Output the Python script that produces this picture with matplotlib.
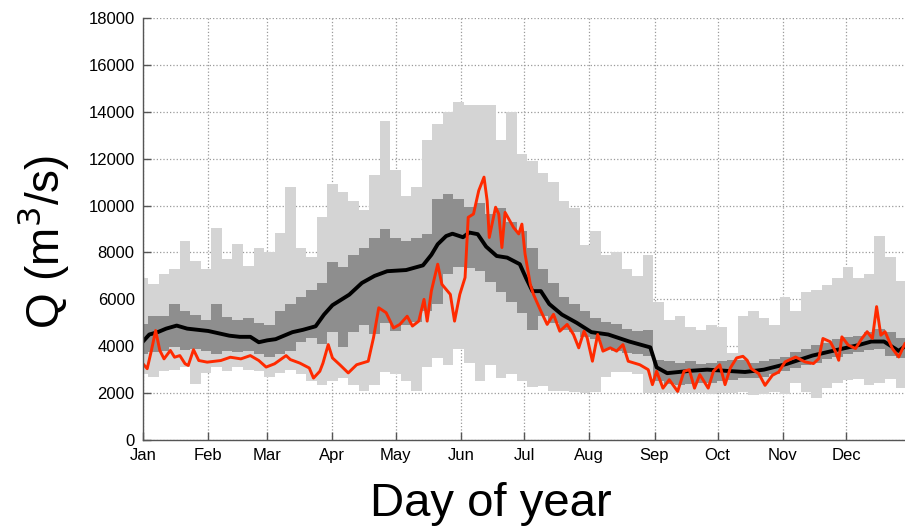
import numpy as np
import matplotlib
matplotlib.use("Agg")
import matplotlib.pyplot as plt

plt.rcParams['font.family'] = ['Liberation Sans', 'DejaVu Sans']

# === Daily discharge climatology (5-day sampling) ===
band_day = list(range(1, 367, 5))

q_max = [6900, 6650, 7080, 7300, 8500, 7650, 7300, 9060, 7700, 8370,
         7430, 8200, 8000, 8850, 10800, 8200, 7800, 9500, 10900, 10600,
         10200, 9800, 11300, 13600, 11500, 10400, 10800, 12800, 13500, 14000,
         14400, 14300, 14300, 14300, 12800, 14000, 12200, 11900, 11400, 11000,
         10200, 9900, 8300, 8900, 7900, 8000, 7300, 7000, 7900, 5900,
         5100, 5300, 4800, 4700, 4900, 4800, 3700, 5300, 5500, 5200,
         4900, 6100, 5500, 6300, 6400, 6600, 6900, 7400, 6900, 7100,
         8700, 7800, 6800, 7800]

q_min = [2800, 2700, 2950, 3000, 3100, 2400, 2850, 3100, 2950, 3100,
         3000, 2950, 2700, 2850, 3000, 2800, 2500, 2350, 2500, 2650,
         2350, 2100, 2350, 2900, 2800, 2500, 2100, 3100, 3500, 3200,
         3900, 3300, 2500, 3200, 2650, 2800, 2500, 2250, 2300, 2100,
         2100, 2050, 2000, 2050, 2700, 2900, 2900, 2800, 2000, 2000,
         2000, 2000, 2000, 2000, 1950, 2000, 2000, 2050, 1900, 1950,
         2050, 1950, 2450, 2050, 1800, 2200, 2450, 2550, 2600, 2350,
         2450, 2600, 2200, 2900]

q_p75 = [4950, 5300, 5300, 5800, 5500, 5350, 5100, 5800, 5250, 5100,
         5200, 5000, 4900, 5500, 5800, 6100, 6400, 6700, 7600, 7400,
         7900, 8200, 8600, 9000, 8600, 8500, 8600, 8800, 10300, 10500,
         10300, 9950, 10100, 9650, 9900, 9300, 8900, 8200, 7300, 6700,
         6100, 5800, 5500, 5200, 5050, 4950, 4750, 4650, 4700, 3400,
         3350, 3300, 3350, 3250, 3300, 3350, 3400, 3400, 3300, 3350,
         3450, 3550, 3750, 3900, 4050, 4150, 4300, 4400, 4450, 4600,
         4750, 4600, 4350, 4450]

q_p25 = [3650, 3750, 3800, 3950, 3850, 3880, 3800, 3680, 3800, 3750,
         3800, 3680, 3550, 3680, 3800, 4200, 4350, 4100, 4600, 3950,
         4600, 4900, 4500, 5000, 4650, 4900, 5050, 5500, 5800, 7100,
         7400, 7350, 7200, 6750, 6300, 5900, 5400, 4700, 5300, 5000,
         4700, 4600, 4400, 4300, 3900, 3800, 3700, 3650, 3600, 2500,
         2400, 2350, 2400, 2450, 2450, 2500, 2550, 2650, 2650, 2700,
         2800, 2950, 3050, 3200, 3300, 3450, 3550, 3650, 3750, 3850,
         3900, 3600, 3500, 3800]

# Median discharge
med_day = [1, 4, 8, 12, 17, 22, 27, 32, 37, 42, 47, 52, 56, 60, 64, 68, 72,
           77, 83, 87, 91, 99, 105, 111, 117, 126, 134, 138, 141, 145, 148,
           153, 156, 160, 164, 169, 174, 180, 183, 186, 190, 194, 200, 207,
           214, 222, 232, 242, 245, 250, 261, 269, 278, 287, 296, 307, 319,
           331, 341, 347, 353, 360, 366]
med_q = [4200, 4500, 4600, 4750, 4880, 4750, 4700, 4650, 4550, 4450, 4400,
         4400, 4170, 4250, 4300, 4450, 4600, 4700, 4850, 5350, 5750, 6200,
         6700, 7000, 7200, 7250, 7450, 7900, 8350, 8700, 8800, 8650, 8850,
         8780, 8250, 7850, 7780, 7500, 6900, 6350, 6350, 5800, 5350, 5000,
         4600, 4500, 4200, 3950, 3100, 2850, 2950, 3000, 2950, 2900, 3000,
         3250, 3600, 3850, 4050, 4200, 4200, 3800, 4200]

# Single-year discharge
yr_day = [1, 3, 5, 7, 9, 11, 14, 16, 18.5, 21, 22.5, 25, 27.5, 31.5, 38,
          42.5, 47.5, 52, 56, 59.5, 63.5, 69, 71, 75.5, 80, 82, 85, 86.5,
          89, 91, 94.5, 98.5, 102.5, 108, 110.5, 113, 116.5, 120, 123, 126.5,
          129, 132, 134.5, 136, 138, 141, 143, 147, 149, 151.5, 154, 155.5,
          158, 160.5, 163, 164.5, 165.5, 168.5, 170, 171.5, 173, 177, 179.5,
          181, 182.5, 185, 186.5, 190, 193, 196, 199, 202.5, 205.5, 208,
          210.5, 212, 214.5, 217, 219.5, 223, 226, 229, 231.5, 237, 241,
          243, 245, 248, 251, 255, 258, 260.5, 263, 265.5, 269.5, 272, 275,
          277.5, 280, 283, 286, 288, 290, 293.5, 296.5, 300, 303, 306, 311,
          315.5, 319.5, 322, 324, 327.5, 330, 331.5, 333, 336, 339.5, 342.5,
          345, 347.5, 349.5, 351.5, 353.5, 357, 360, 363, 366]
yr_q = [3250, 3040, 3820, 4670, 3820, 3460, 3820, 3530, 3600, 3250, 3180,
        3850, 3390, 3320, 3390, 3530, 3460, 3600, 3390, 3110, 3250, 3600,
        3430, 3280, 3070, 2640, 2930, 3280, 4070, 3500, 3210, 2860, 3210,
        3360, 4360, 5640, 5430, 4780, 4930, 5280, 4860, 5070, 6000, 5070,
        6360, 7500, 6640, 6210, 5070, 6210, 6930, 9500, 9640, 10640, 11215,
        10200, 8640, 9930, 9640, 8210, 9710, 9070, 8790, 9210, 7930, 6640,
        6210, 5500, 4930, 5360, 4640, 4930, 4500, 3930, 4640, 4360, 3360,
        4500, 3790, 3930, 3790, 4070, 3360, 3210, 3000, 2360, 2930, 2210,
        2570, 2070, 2930, 3000, 2210, 2790, 2210, 2930, 3210, 2360, 3070,
        3500, 3570, 3400, 3040, 2830, 2330, 2760, 2900, 3330, 3540, 3330,
        3260, 3470, 4330, 4190, 3760, 3400, 4400, 4050, 3900, 4330, 4620,
        4330, 5690, 4470, 4620, 3900, 3540, 4120, 4300]

month_day = [1, 32, 60, 91, 121, 152, 182, 213, 244, 274, 305, 335]
month_lbl = ['Jan', 'Feb', 'Mar', 'Apr', 'May', 'Jun',
             'Jul', 'Aug', 'Sep', 'Oct', 'Nov', 'Dec']

# === Plot ===
fig = plt.figure(figsize=(9.05, 5.32), dpi=100)
ax = fig.add_axes([0.158, 0.173, 0.849, 0.793])

ax.fill_between(band_day, q_min, q_max, step='mid', color='#d4d4d4', lw=0)
ax.fill_between(band_day, q_p25, q_p75, step='mid', color='#8e8e8e', lw=0)
ax.plot(med_day, med_q, color='black', lw=2.8)
ax.plot(yr_day, yr_q, color='#ff2a00', lw=2.1)

ax.set_xlim(1, 366)
ax.set_ylim(0, 18000)
ax.set_xticks(month_day)
ax.set_xticklabels(month_lbl)
ax.set_yticks(np.arange(0, 18001, 2000))

ax.set_axisbelow(True)
ax.grid(True, linestyle=':', color='#9a9a9a', lw=0.9)
for side in ['top', 'right']:
    ax.spines[side].set_visible(False)
for side in ['left', 'bottom']:
    ax.spines[side].set_color('#555555')
    ax.spines[side].set_linewidth(1.0)
ax.tick_params(direction='in', length=6, width=1, color='#555555',
               labelsize=12, pad=6)

fig.text(0.5425, 0.052, 'Day of year', ha='center', va='center', fontsize=34)
fig.text(0.047, 0.545, 'Q (m$^3$/s)', ha='center', va='center',
         rotation=90, fontsize=33)

plt.savefig('out.png', dpi=100)
